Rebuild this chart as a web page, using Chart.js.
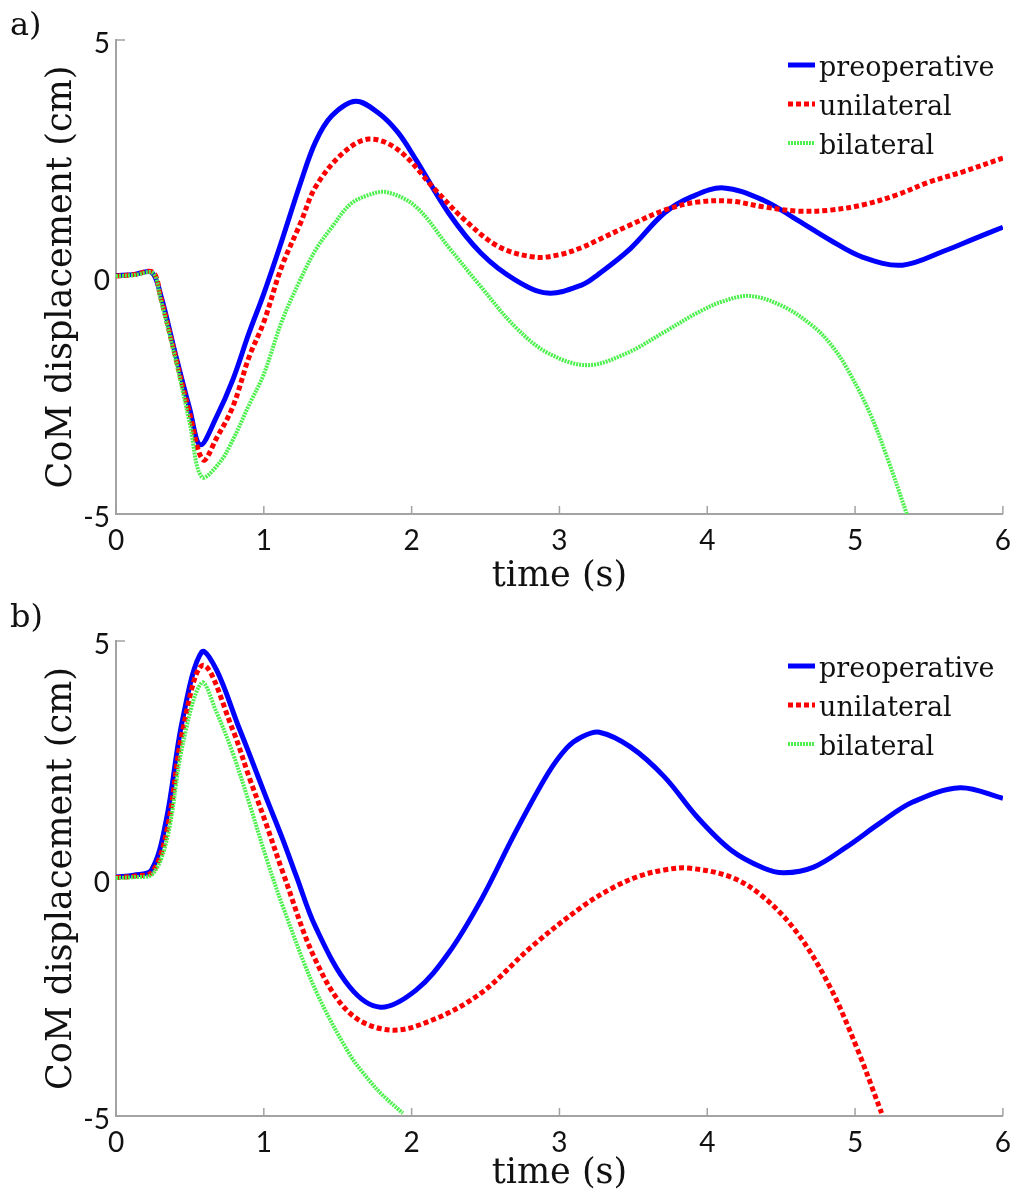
<!DOCTYPE html>
<html>
<head>
<meta charset="utf-8">
<script src="https://cdn.jsdelivr.net/npm/chart.js@4.4.0/dist/chart.umd.min.js"></script>
<style>
body { margin: 0; background: #fff; width: 1021px; height: 1196px; position: relative; overflow: hidden; }
.panel { position: absolute; left: 0; width: 1021px; height: 598px; }
.tag { position: absolute; left: 10px; font: 32px "DejaVu Serif"; line-height: 32px; color: #111; }
</style>
</head>
<body>
<div class="panel" style="top:0"><canvas id="chart-a" width="1021" height="598"></canvas></div>
<div class="panel" style="top:598px"><canvas id="chart-b" width="1021" height="598"></canvas></div>
<div class="tag" style="top:8px">a)</div>
<div class="tag" style="top:600px">b)</div>
<script>
// panel a) - time (s) and CoM displacement (cm) per condition
const aPreT = [0, 0.12, 0.24, 0.3, 0.4, 0.5, 0.57, 0.68, 0.79, 0.9, 1.0, 1.12, 1.25, 1.35, 1.46, 1.62, 1.78, 1.91, 2.03, 2.25, 2.47, 2.7, 2.92, 3.15, 3.26, 3.48, 3.71, 3.9, 4.11, 4.38, 4.61, 4.83, 5.05, 5.32, 5.62, 5.8, 6.0];
const aPreV = [0.03, 0.05, 0.1, -0.35, -1.6, -2.8, -3.54, -2.95, -2.17, -1.18, -0.35, 0.75, 2.0, 2.85, 3.4, 3.71, 3.45, 3.04, 2.47, 1.35, 0.5, -0.06, -0.34, -0.17, 0.05, 0.6, 1.35, 1.7, 1.88, 1.62, 1.2, 0.78, 0.42, 0.25, 0.57, 0.8, 1.05];

const aUniT = [0, 0.12, 0.25, 0.3, 0.4, 0.5, 0.59, 0.68, 0.79, 0.9, 1.0, 1.12, 1.25, 1.35, 1.53, 1.71, 1.91, 2.16, 2.36, 2.59, 2.83, 3.0, 3.15, 3.26, 3.48, 3.71, 3.93, 4.16, 4.38, 4.61, 4.83, 5.05, 5.28, 5.5, 5.73, 6.0];
const aUniV = [0.02, 0.05, 0.1, -0.4, -1.65, -2.9, -3.86, -3.4, -2.74, -1.69, -0.95, 0.21, 1.15, 1.9, 2.6, 2.91, 2.68, 1.84, 1.2, 0.64, 0.42, 0.47, 0.62, 0.78, 1.1, 1.41, 1.58, 1.6, 1.48, 1.39, 1.41, 1.52, 1.73, 2.0, 2.22, 2.51];

const aBilT = [0, 0.12, 0.25, 0.3, 0.4, 0.5, 0.58, 0.7, 0.79, 0.9, 1.0, 1.12, 1.24, 1.35, 1.46, 1.58, 1.7, 1.83, 2.03, 2.25, 2.47, 2.7, 2.92, 3.19, 3.46, 3.71, 3.93, 4.1, 4.29, 4.52, 4.72, 4.83, 4.94, 5.1, 5.23, 5.35];
const aBilV = [0.02, 0.04, 0.08, -0.45, -1.7, -3.1, -4.22, -3.92, -3.44, -2.7, -2.05, -0.95, -0.1, 0.57, 1.05, 1.52, 1.72, 1.79, 1.48, 0.63, -0.21, -1.05, -1.6, -1.86, -1.6, -1.16, -0.76, -0.52, -0.4, -0.63, -1.05, -1.4, -1.9, -2.87, -3.92, -5.0];

// panel b)
const bPreT = [0, 0.12, 0.24, 0.34, 0.45, 0.58, 0.68, 0.83, 0.9, 1.01, 1.13, 1.22, 1.35, 1.58, 1.79, 2.03, 2.25, 2.47, 2.7, 2.92, 3.05, 3.15, 3.27, 3.48, 3.71, 3.93, 4.16, 4.38, 4.52, 4.72, 4.94, 5.17, 5.39, 5.71, 6.0];
const bPreV = [0.03, 0.07, 0.18, 1.23, 3.34, 4.77, 4.39, 3.19, 2.64, 1.75, 0.81, 0.05, -1.02, -2.28, -2.71, -2.35, -1.57, -0.45, 0.96, 2.2, 2.75, 2.98, 3.08, 2.77, 2.14, 1.3, 0.6, 0.22, 0.12, 0.24, 0.66, 1.17, 1.61, 1.91, 1.69];

const bUniT = [0, 0.12, 0.25, 0.35, 0.45, 0.59, 0.79, 0.9, 1.01, 1.13, 1.35, 1.58, 1.85, 2.14, 2.47, 2.81, 3.15, 3.37, 3.55, 3.71, 3.87, 4.16, 4.38, 4.61, 4.83, 5.01, 5.18];
const bUniV = [0.02, 0.05, 0.15, 1.1, 3.1, 4.49, 3.13, 2.14, 1.2, 0.12, -1.72, -2.83, -3.19, -2.98, -2.41, -1.44, -0.6, -0.18, 0.06, 0.18, 0.22, 0.03, -0.39, -1.15, -2.28, -3.55, -4.94];

const bBilT = [0, 0.12, 0.25, 0.35, 0.45, 0.58, 0.68, 0.79, 0.9, 1.02, 1.13, 1.35, 1.58, 1.7, 1.8, 1.94];
const bBilV = [0.01, 0.03, 0.1, 0.9, 2.8, 4.12, 3.5, 2.64, 1.6, 0.4, -0.6, -2.35, -3.7, -4.2, -4.55, -4.94];

const seriesNames = ['preoperative', 'unilateral', 'bilateral'];
const xTicks = [0, 1, 2, 3, 4, 5, 6];
const yTicks = [-5, 0, 5];

const axisGrey = '#a3a3a3';
const tickFont = { family: 'Lato', size: 28 };
const titleFont = { family: 'DejaVu Serif', size: 35 };

function pts(t, v) {
    return t.map((x, i) => ({ x: x, y: v[i] }));
}

const innerTicks = {
    id: 'innerTicks',
    beforeDatasetsDraw(chart) {
        const { ctx, chartArea } = chart;
        const xs = chart.scales.x, ys = chart.scales.y;
        ctx.save();
        ctx.strokeStyle = axisGrey;
        ctx.lineWidth = 1.5;
        ctx.beginPath();
        xs.ticks.forEach(t => {
            const px = xs.getPixelForValue(t.value);
            ctx.moveTo(px, chartArea.bottom);
            ctx.lineTo(px, chartArea.bottom - 8);
        });
        ys.ticks.forEach(t => {
            const py = ys.getPixelForValue(t.value);
            ctx.moveTo(chartArea.left, py);
            ctx.lineTo(chartArea.left + 9, py);
        });
        ctx.stroke();
        ctx.restore();
    }
};

const insideLegend = {
    id: 'insideLegend',
    afterDatasetsDraw(chart) {
        const { ctx, chartArea } = chart;
        const rows = [29, 68, 107];
        ctx.save();
        ctx.font = '27px "DejaVu Serif"';
        ctx.textBaseline = 'middle';
        ctx.fillStyle = '#111';
        chart.data.datasets.forEach((ds, i) => {
            const y = chartArea.top + rows[i];
            ctx.strokeStyle = ds.borderColor;
            ctx.lineWidth = ds.borderWidth;
            ctx.setLineDash(ds.borderDash || []);
            ctx.beginPath();
            ctx.moveTo(788, y - 4);
            ctx.lineTo(815, y - 4);
            ctx.stroke();
            ctx.setLineDash([]);
            ctx.fillText(ds.label, 819, y);
        });
        ctx.restore();
    }
};

function makeChart(id, pre, uni, bil, topPad, xHeight, titlePad) {
    new Chart(document.getElementById(id).getContext('2d'), {
        type: 'line',
        data: {
            datasets: [
                { label: seriesNames[0], data: pre, borderColor: '#0000ff', borderWidth: 5, order: 3 },
                { label: seriesNames[1], data: uni, borderColor: '#ff0000', borderWidth: 5, borderDash: [5, 3], order: 2 },
                { label: seriesNames[2], data: bil, borderColor: '#4cf04c', borderWidth: 4, borderDash: [2, 1], order: 1 }
            ]
        },
        options: {
            responsive: false,
            animation: false,
            events: [],
            layout: { padding: { top: topPad, right: 14, left: 0, bottom: 0 } },
            elements: {
                point: { radius: 0 },
                line: { tension: 0.35, fill: false }
            },
            plugins: { legend: { display: false }, tooltip: { enabled: false } },
            scales: {
                x: {
                    type: 'linear', min: 0, max: 6,
                    afterBuildTicks: s => { s.ticks = xTicks.map(v => ({ value: v })); },
                    afterFit: s => { s.height = xHeight; },
                    grid: { display: false, drawTicks: false },
                    border: { color: axisGrey, width: 2 },
                    ticks: { font: tickFont, color: '#111', padding: 10, maxRotation: 0 },
                    title: { display: true, text: 'time (s)', font: titleFont, color: '#111', padding: { top: 0, bottom: titlePad } }
                },
                y: {
                    type: 'linear', min: -5, max: 5,
                    afterBuildTicks: s => { s.ticks = yTicks.map(v => ({ value: v })); },
                    afterFit: s => { s.width = 116; },
                    grid: { display: false, drawTicks: false },
                    border: { color: axisGrey, width: 2 },
                    ticks: { font: tickFont, color: '#111', padding: 6, labelOffset: 4 },
                    title: { display: true, text: 'CoM displacement (cm)', font: titleFont, color: '#111', padding: { top: 41, bottom: 0 } }
                }
            }
        },
        plugins: [innerTicks, insideLegend]
    });
}

makeChart('chart-a', pts(aPreT, aPreV), pts(aUniT, aUniV), pts(aBilT, aBilV), 40, 84, 0);
makeChart('chart-b', pts(bPreT, bPreV), pts(bUniT, bUniV), pts(bBilT, bBilV), 43, 80, 1);
</script>
</body>
</html>
